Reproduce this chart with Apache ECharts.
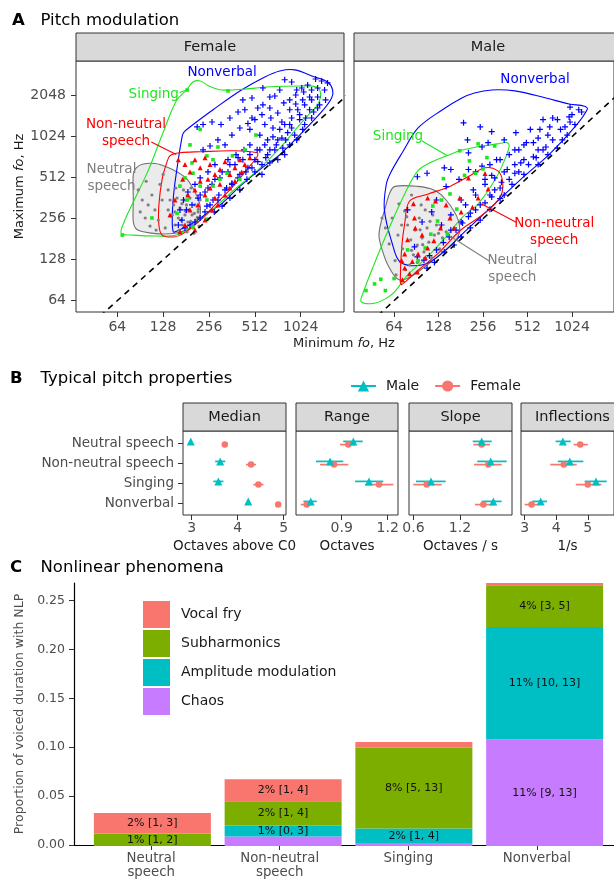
<!DOCTYPE html>
<html>
<head>
<meta charset="utf-8">
<script src="https://cdn.jsdelivr.net/npm/echarts@6/dist/echarts.min.js"></script>
<style>
  html, body { margin: 0; padding: 0; background: #fff; }
  #chart { width: 614px; height: 880px; }
</style>
</head>
<body>
<div id="chart"></div>
<script>
// ---------- A: pitch modulation (min / max f0, Hz) ----------
const xTicksHz = [64, 128, 256, 512, 1024];
const yTicksHz = [64, 128, 256, 512, 1024, 2048];

// outlines around each group
const femaleNonverbalHull = [[174,1095],[192,1207],[272,1614],[408,2220],[595,2810],[746,3109],[935,3167],[1263,2810],[1536,2582],[1660,2255],[1634,1970],[1425,1590],[1008,1053],[746,755],[552,588],[408,442],[312,332],[256,287],[201,238],[158,208],[149,205],[147,273],[151,416],[161,694],[169,969]];
const femaleSingingHull = [[224,2626],[256,2413],[312,2255],[440,2290],[612,2370],[1008,2413],[1302,2370],[1383,2107],[1322,1754],[1172,1510],[935,1136],[746,845],[530,577],[368,409],[260,287],[192,219],[156,194],[117,191],[81.5,194],[68,200],[70.5,238],[82.7,351],[102,577],[126,1053],[156,1870],[182,2255],[201,2582]];
const femaleNonNeutralHull = [[142,742],[165,780],[224,794],[368,807],[530,780],[530,730],[454,588],[368,442],[272,312],[214,238],[172,198],[151,188],[126,194],[120,230],[120,323],[126,498],[135,657]];
const femaleNeutralHull = [[81.5,541],[85.2,605],[94.7,645],[113.5,650],[134,616],[158,564],[184,498],[207,402],[224,317],[220,259],[192,219],[153,200],[119,198],[94.7,205],[85.2,215],[81.5,242],[81.5,351]];

const maleNonverbalHull = [[224,2144],[293,2255],[420,2220],[682,1970],[979,1780],[1245,1715],[1302,1635],[1071,1207],[724,767],[461,498],[307,329],[195,208],[138,146],[102,118],[71,122],[62,170],[55,297],[56.7,458],[61,564],[73,787],[93,1186],[136,1614],[184,1970]];
const maleSingingHull = [[38.3,63],[45.9,61],[55.9,66],[65,75],[79,99],[102,127],[138,179],[186,263],[237,329],[307,490],[356,680],[385,875],[373,926],[321,907],[231,860],[178,807],[147,745],[119,680],[93,577],[75.5,389],[59.3,219],[45.9,112],[39.5,73]];
const maleNonNeutralHull = [[81.5,345],[108,387],[153,442],[210,532],[264,605],[321,577],[346,490],[341,387],[293,311],[237,259],[178,208],[126,141],[93,107],[72,84],[70.5,88],[72,156],[75.5,235]];
const maleNeutralHull = [[65,442],[92,442],[119,416],[144,351],[174,250],[174,191],[144,151],[107,117],[81.5,95],[69,91],[59.3,112],[53.5,148],[50.6,198],[55.9,311],[60.2,402]];

// individual sounds [min, max]
const femaleNeutral = [[87.8,416],[93.3,351],[90.5,287],[97.6,259],[102,323],[105,226],[108,382],[113,297],[119,250],[122,458],[126,351],[132,219],[128,541],[138,416],[99,482],[115,211],[142,351],[150,323],[153,287],[158,363],[161,259],[165,307],[171,230],[176,351],[178,273],[182,323],[186,242],[189,297],[192,363],[198,273],[201,219],[207,323],[210,250],[217,287],[224,351],[228,259],[218,300],[153,230],[147,273],[163,211],[184,205],[204,200],[220,226],[215,262],[174,416],[195,430],[138,297],[155,430],[168,250],[180,290],[194,245],[205,280],[170,330],[185,380]];
const femaleNonNeutral = [[161,694],[178,639],[192,564],[172,498],[207,694],[224,605],[241,718],[260,639],[280,541],[302,588],[326,671],[351,541],[379,605],[408,694],[440,639],[475,718],[186,382],[207,416],[224,482],[241,382],[260,430],[280,363],[302,458],[326,382],[351,430],[192,297],[217,323],[241,250],[268,297],[178,230],[207,211],[165,205],[252,498],[379,482],[420,564],[142,273],[153,351],[293,323]];
const femaleSinging = [[224,1157],[520,1053],[293,860],[192,891],[341,2220],[184,2255],[69,194],[198,657],[201,552],[248,740],[272,694],[272,444],[224,444],[184,351],[248,351],[302,498],[158,280],[201,222],[108,259],[336,552],[365,740],[165,444],[248,254],[440,820],[408,498],[178,510]];
const femaleNonverbal = [[214,1207],[234,1258],[268,1313],[307,1258],[351,1405],[397,1554],[440,1614],[490,1405],[535,1663],[578,1754],[642,2003],[692,2038],[746,2255],[804,2682],[893,2582],[964,2255],[1040,2333],[1137,2454],[1282,2716],[1404,2626],[1536,2539],[1469,2255],[1322,2003],[1172,2003],[1055,1905],[950,1780],[867,1614],[793,1811],[724,1528],[652,1405],[595,1258],[673,1186],[770,1313],[867,1258],[1008,1485],[1172,1614],[1087,1258],[935,1053],[816,969],[724,969],[621,969],[552,1053],[475,1157],[408,1186],[362,1053],[326,891],[293,969],[260,875],[234,820],[552,820],[621,755],[692,820],[781,845],[867,891],[964,969],[1055,1157],[1208,1405],[1322,1663],[512,694],[570,639],[642,657],[724,694],[804,755],[461,605],[512,564],[570,541],[408,541],[454,498],[362,458],[408,416],[326,416],[351,363],[293,351],[312,317],[260,323],[277,287],[241,287],[224,259],[207,242],[192,230],[178,219],[379,639],[341,564],[302,510],[268,458],[241,402],[217,363],[198,323],[182,297],[427,694],[475,755],[385,755],[341,694],[280,639],[252,564],[224,510],[207,458],[186,402],[174,351],[165,297],[170,250],[161,230],
  [1008,1367],[1104,1405],[1245,1554],[1362,1754],[1491,1905],[893,1186],[841,1095],[770,1000],[708,891],[642,820],[604,718],[535,671],[490,605],[447,564],[397,510],[362,466],[334,430],[297,382],[272,351],[248,317],[804,1258],[893,1405],[979,1614],[1087,1754],[1208,1905],[746,1157],[673,1020],[595,891],[530,820],[475,891],[434,820],[397,718],[351,639],[312,564],[280,498],[252,430],[224,382],[867,1905],[950,2072],[1071,2180],[1208,2255],[1322,2333],[642,1663],[570,1485],[512,1367],[461,1280],[578,2333],[490,1970],[427,1905]];

const maleNeutral = [[53,259],[55.9,219],[62.1,259],[69,329],[59.3,167],[65,126],[84,382],[75.5,292],[68,194],[73,154],[79,230],[83,179],[86.5,139],[89,211],[92,164],[94.7,259],[99,185],[102,146],[107,219],[110,172],[115,132],[120,194],[124,230],[130,154],[136,185],[104,297],[81.5,117],[92,122],[76.7,108],[66,99],[144,205],[117,273],[97.6,323],[72,230],[96,212],[84,150],[112,245],[128,200],[78,265],[100,165]];
const maleNonNeutral = [[86.5,329],[108,363],[122,345],[88,259],[72,126],[75.5,111],[81.5,101],[93,141],[108,156],[119,176],[132,219],[153,259],[178,363],[75.5,141],[204,510],[264,550],[237,363],[277,423],[217,311],[79,179],[85,124],[92,104],[99,194],[104,132],[73,91],[89,219],[144,323],[163,219],[182,287]];
const maleSinging = [[41.3,76],[47.2,85],[52,92],[55.9,76],[64,93],[138,504],[117,317],[153,389],[170,301],[126,246],[147,197],[113.5,197],[93,126],[192,532],[207,680],[178,807],[237,907],[307,875],[256,594],[228,550],[272,719],[104,156],[79,151],[134,351]];
const maleNonverbal = [[189,1295],[245,1207],[201,969],[293,1115],[427,1095],[535,1157],[652,1367],[758,1405],[979,1430],[140,605],[107,552],[92,520],[155,588],[204,780],[252,860],[277,926],[356,969],[447,820],[503,926],[621,1157],[724,1207],[561,728],[682,860],[880,969],[341,474],[307,416],[373,588],[420,552],[293,370],[264,335],[228,297],[204,265],[186,238],[168,211],[151,188],[138,171],[124,151],[111,137],[102,127],[88,159],[79,297],[124,351],[144,441],[176,498],[204,588],[252,622],[293,532],[461,657],[561,926],[918,1207],[1137,1614],[993,1690],[356,382],[402,458],[484,541],[604,639],[703,755],[816,845],[950,1053],[1071,1258],[334,360],[285,300],[245,250],[210,219],[182,188],[163,164],[140,146],[120,122],[107,111],[92,134],[99,242],[115,287],[134,230],[155,273],[182,351],[220,416],[264,498],[316,694],[385,755],
  [758,969],[856,1157],[993,1313],[652,820],[586,718],[520,639],[447,564],[385,498],[334,430],[285,382],[245,323],[210,281],[182,242],[155,211],[604,820],[484,694],[420,639],[356,564],[307,510],[264,458],[228,382],[195,323],[703,1053],[604,1000],[484,891],[420,820],[334,694],[285,639],[228,564],[1190,1554],[1024,1485],[816,1367]];

// ---------- B: typical pitch properties [estimate, lower, upper] ----------
const pitchRows = ['Neutral speech', 'Non-neutral speech', 'Singing', 'Nonverbal'];
const medianMale = [[2.98,2.96,3.00],[3.62,3.51,3.73],[3.58,3.47,3.69],[4.23,4.21,4.25]];
const medianFemale = [[3.72,3.70,3.74],[4.29,4.18,4.40],[4.45,4.34,4.56],[4.88,4.86,4.90]];
const rangeMale = [[0.976,0.91,1.037],[0.824,0.732,0.91],[1.078,0.987,1.171],[0.698,0.65,0.737]];
const rangeFemale = [[0.943,0.889,0.987],[0.85,0.758,0.943],[1.143,1.052,1.237],[0.672,0.633,0.711]];
const slopeMale = [[1.48,1.364,1.609],[1.596,1.423,1.803],[0.826,0.632,1.015],[1.63,1.48,1.738]];
const slopeFemale = [[1.48,1.372,1.587],[1.565,1.381,1.738],[0.77,0.597,0.964],[1.501,1.394,1.652]];
const inflMale = [[4.21,3.98,4.46],[4.43,4.05,4.86],[5.26,4.9,5.6],[3.51,3.24,3.71]];
const inflFemale = [[4.76,4.55,5.0],[4.24,3.81,4.65],[5.0,4.62,5.43],[3.22,3.0,3.43]];

// ---------- C: nonlinear phenomena ----------
const nlpCategories = ['Neutral\nspeech', 'Non-neutral\nspeech', 'Singing', 'Nonverbal'];
const chaos = [0, 0.0098, 0.0023, 0.1087];
const amplitudeMod = [0, 0.0112, 0.0156, 0.1145];
const subharmonics = [0.0128, 0.0247, 0.0823, 0.0424];
const vocalFry = [0.0207, 0.0224, 0.0058, 0.0023];
const chaosLabels = ['', '', '', '11% [9, 13]'];
const amplitudeLabels = ['', '1% [0, 3]', '2% [1, 4]', '11% [10, 13]'];
const subharmonicLabels = ['1% [1, 2]', '2% [1, 4]', '8% [5, 13]', '4% [3, 5]'];
const fryLabels = ['2% [1, 3]', '2% [1, 4]', '', ''];
const nlpTicks = [0, 0.05, 0.1, 0.15, 0.2, 0.25];

// ---------- styling ----------
const FONT = 'DejaVu Sans';
const BLUE = '#0000ff', GREEN = '#1ee61e', RED = '#ff0000', GRAY = '#7f7f7f';
const TEAL = '#00bfc4', SALMON = '#f8766d';
const PLUS = 'path://M4,0H6V4H10V6H6V10H4V6H0V4H4Z';

// text anchors (Hz) for the group names in A
const femaleNotes = [['Nonverbal', 312, 3021, BLUE], ['Singing', 111, 2107, GREEN], ['Non-neutral\nspeech', 73, 1090, RED], ['Neutral\nspeech', 58.6, 507, GRAY]];
const maleNotes = [['Nonverbal', 575, 2682, BLUE], ['Singing', 68, 1031, GREEN], ['Non-neutral\nspeech', 776, 203, RED], ['Neutral\nspeech', 404, 109, GRAY]];
const femaleLeaders = [[[107, 937], [156, 758], RED], [[164, 2159], [182, 2255], GREEN]];
const maleLeaders = [[[99, 951], [146, 745], GREEN], [[249, 329], [432, 240], RED], [[149, 194], [282, 125], GRAY]];

const toLog = pts => pts.map(p => [Math.log2(p[0]), Math.log2(p[1])]);
const hzLabel = v => String(Math.round(Math.pow(2, v)));

const grids = [
  { left: 76, top: 61, width: 268, height: 251 },
  { left: 354, top: 61, width: 268, height: 251 },
  { left: 183, top: 431, width: 103, height: 84 },
  { left: 296, top: 431, width: 102, height: 84 },
  { left: 409, top: 431, width: 103, height: 84 },
  { left: 521, top: 431, width: 103, height: 84 },
  { left: 74, top: 583, width: 549, height: 263 },   // C axes
  { left: 87, top: 583, width: 523, height: 263 }    // C bars (category band)
].map((g, i) => Object.assign(g, i < 6 ? { show: true, borderColor: '#333', borderWidth: 1 } : {}));

const tickStyle = { lineStyle: { color: '#333', width: 1 }, length: 5 };

function aXAxis(gi) {
  const vals = xTicksHz.map(Math.log2);
  return {
    type: 'value', gridIndex: gi, min: 5.099, max: 10.944,
    axisLine: { show: false }, splitLine: { show: false },
    axisTick: Object.assign({ show: true, customValues: vals }, tickStyle),
    axisLabel: { customValues: vals, formatter: hzLabel, color: '#4d4d4d', fontSize: 14, margin: 8 }
  };
}
function aYAxis(gi, labels) {
  const vals = yTicksHz.map(Math.log2);
  const ax = {
    type: 'value', gridIndex: gi, min: 5.724, max: 11.846,
    axisLine: { show: false }, splitLine: { show: false },
    axisTick: Object.assign({ show: labels, customValues: vals }, tickStyle),
    axisLabel: { show: labels, customValues: vals, formatter: hzLabel, color: '#4d4d4d', fontSize: 14, margin: 10 }
  };
  if (labels) {
    Object.assign(ax, {
      name: 'Maximum {i|fo}, Hz', nameLocation: 'middle', nameGap: 49,
      nameTextStyle: { fontSize: 13, color: '#1a1a1a', rich: { i: { fontStyle: 'italic', fontSize: 13, color: '#1a1a1a' } } }
    });
  }
  return ax;
}
function bXAxis(gi, min, max, ticks, name) {
  return {
    type: 'value', gridIndex: gi, min: min, max: max,
    axisLine: { show: false }, splitLine: { show: false },
    axisTick: Object.assign({ show: true, customValues: ticks }, tickStyle),
    axisLabel: { customValues: ticks, color: '#4d4d4d', fontSize: 14, margin: 6 },
    name: name, nameLocation: 'middle', nameGap: 24,
    nameTextStyle: { fontSize: 13.5, color: '#1a1a1a' }
  };
}
function bYAxis(gi, labels) {
  const vals = [1, 2, 3, 4];
  return {
    type: 'value', gridIndex: gi, min: 0.4, max: 4.6,
    axisLine: { show: false }, splitLine: { show: false },
    axisTick: Object.assign({ show: labels, customValues: vals }, tickStyle),
    axisLabel: { show: labels, customValues: vals, formatter: v => pitchRows[4 - v], color: '#4d4d4d', fontSize: 13.5, margin: 9 }
  };
}

function hull(pts, gi, stroke, fill) {
  return {
    type: 'custom', xAxisIndex: gi, yAxisIndex: gi, clip: true, silent: true,
    data: toLog(pts),
    renderItem(params, api) {
      if (params.dataIndexInside !== 0) return null;
      const pp = [];
      for (let i = 0; i < params.dataInsideLength; i++) pp.push(api.coord([api.value(0, i), api.value(1, i)]));
      return { type: 'polygon', shape: { points: pp, smooth: 0.35 }, style: { fill: fill || 'none', stroke: stroke, lineWidth: 1.1 } };
    }
  };
}
function points(pts, gi, symbol, size, color) {
  return {
    type: 'scatter', xAxisIndex: gi, yAxisIndex: gi, silent: true,
    data: toLog(pts), symbol: symbol, symbolSize: size,
    itemStyle: { color: color, opacity: 1 }
  };
}
function segment(a, b, gi, color, dashed) {
  return {
    type: 'line', xAxisIndex: gi, yAxisIndex: gi, silent: true, clip: true,
    data: toLog([a, b]), showSymbol: false, symbol: 'none',
    lineStyle: { color: color, width: dashed ? 1.6 : 1.1, type: dashed ? [6, 5] : 'solid' }
  };
}
function notes(list, gi) {
  return {
    type: 'custom', xAxisIndex: gi, yAxisIndex: gi, silent: true, clip: false,
    data: list.map(n => [Math.log2(n[1]), Math.log2(n[2])]),
    renderItem(params, api) {
      const n = list[params.dataIndex];
      const p = api.coord([api.value(0), api.value(1)]);
      return {
        type: 'text', x: p[0], y: p[1],
        style: { text: n[0], fill: n[3], fontSize: 13.5, fontFamily: FONT, lineHeight: 17,
                 align: 'center', textAlign: 'center', verticalAlign: 'middle', textVerticalAlign: 'middle' }
      };
    }
  };
}
function panelA(gi, g) {
  const s = [];
  s.push(hull(g.neutralHull, gi, '#707070', '#ebebeb'));
  s.push(points(g.neutral, gi, 'circle', 3.2, GRAY));
  s.push(points(g.nonverbal, gi, PLUS, 6, BLUE));
  s.push(points(g.singing, gi, 'rect', 3.6, GREEN));
  s.push(points(g.nonNeutral, gi, 'triangle', 5, RED));
  s.push(hull(g.nonverbalHull, gi, BLUE));
  s.push(hull(g.singingHull, gi, GREEN));
  s.push(hull(g.nonNeutralHull, gi, RED));
  s.push(segment([30, 30], [4000, 4000], gi, '#000', true));
  g.leaders.forEach(l => s.push(segment(l[0], l[1], gi, l[2], false)));
  s.push(notes(g.notes, gi));
  return s;
}

function errorBars(rows, gi, color, dy) {
  return {
    type: 'custom', xAxisIndex: gi, yAxisIndex: gi, silent: true,
    data: rows.map((r, i) => [r[1], r[2], 4 - i + dy]),
    encode: { x: [0, 1], y: 2 },
    renderItem(params, api) {
      const a = api.coord([api.value(0), api.value(2)]);
      const b = api.coord([api.value(1), api.value(2)]);
      return { type: 'line', shape: { x1: a[0], y1: a[1], x2: b[0], y2: b[1] }, style: { stroke: color, lineWidth: 1.7 } };
    }
  };
}
function estimates(rows, gi, color, dy, symbol, size) {
  return {
    type: 'scatter', xAxisIndex: gi, yAxisIndex: gi, silent: true,
    data: rows.map((r, i) => [r[0], 4 - i + dy]),
    symbol: symbol, symbolSize: size, itemStyle: { color: color, opacity: 1 }
  };
}
function panelB(gi, male, female) {
  return [
    errorBars(female, gi, SALMON, -0.08), estimates(female, gi, SALMON, -0.08, 'circle', 6.5),
    errorBars(male, gi, TEAL, 0.08), estimates(male, gi, TEAL, 0.08, 'triangle', 8)
  ];
}

function nlpBar(name, values, labels, color) {
  return {
    type: 'bar', name: name, stack: 'nlp', xAxisIndex: 7, yAxisIndex: 7, barWidth: 117,
    data: values,
    itemStyle: { color: color },
    label: { show: true, position: 'inside', formatter: p => labels[p.dataIndex], color: '#111', fontSize: 11, fontFamily: FONT },
    silent: true
  };
}

const series = [].concat(
  panelA(0, { neutralHull: femaleNeutralHull, nonverbalHull: femaleNonverbalHull, singingHull: femaleSingingHull, nonNeutralHull: femaleNonNeutralHull,
              neutral: femaleNeutral, nonverbal: femaleNonverbal, singing: femaleSinging, nonNeutral: femaleNonNeutral,
              leaders: femaleLeaders, notes: femaleNotes }),
  panelA(1, { neutralHull: maleNeutralHull, nonverbalHull: maleNonverbalHull, singingHull: maleSingingHull, nonNeutralHull: maleNonNeutralHull,
              neutral: maleNeutral, nonverbal: maleNonverbal, singing: maleSinging, nonNeutral: maleNonNeutral,
              leaders: maleLeaders, notes: maleNotes }),
  panelB(2, medianMale, medianFemale),
  panelB(3, rangeMale, rangeFemale),
  panelB(4, slopeMale, slopeFemale),
  panelB(5, inflMale, inflFemale),
  [
    { type: 'line', name: 'Male', xAxisIndex: 2, yAxisIndex: 2, data: [], symbol: 'triangle', symbolSize: 9,
      itemStyle: { color: TEAL }, lineStyle: { color: TEAL, width: 1.7 } },
    { type: 'line', name: 'Female', xAxisIndex: 2, yAxisIndex: 2, data: [], symbol: 'circle', symbolSize: 8,
      itemStyle: { color: SALMON }, lineStyle: { color: SALMON, width: 1.7 } }
  ],
  [
    nlpBar('Chaos', chaos, chaosLabels, '#c77cff'),
    nlpBar('Amplitude modulation', amplitudeMod, amplitudeLabels, '#00bfc4'),
    nlpBar('Subharmonics', subharmonics, subharmonicLabels, '#7cae00'),
    nlpBar('Vocal fry', vocalFry, fryLabels, '#f8766d')
  ]
);

function title(letter, text, y, x0) {
  return [
    { type: 'text', x: x0, y: y, style: { text: letter, font: 'bold 16.5px ' + FONT, fill: '#000', verticalAlign: 'middle', textVerticalAlign: 'middle' } },
    { type: 'text', x: 40.5, y: y, style: { text: text, font: '16.5px ' + FONT, fill: '#000', verticalAlign: 'middle', textVerticalAlign: 'middle' } }
  ];
}
function strip(g, y, h, text) {
  return [
    { type: 'rect', shape: { x: g.left, y: y, width: g.width, height: h }, style: { fill: '#d9d9d9', stroke: '#333', lineWidth: 1 } },
    { type: 'text', x: g.left + g.width / 2, y: y + h / 2 + 0.5,
      style: { text: text, font: '14.5px ' + FONT, fill: '#1a1a1a', align: 'center', textAlign: 'center', verticalAlign: 'middle', textVerticalAlign: 'middle' } }
  ];
}

const graphics = [].concat(
  title('A', 'Pitch modulation', 20.5, 12),
  title('B', 'Typical pitch properties', 378.5, 10),
  title('C', 'Nonlinear phenomena', 567.5, 10),
  strip(grids[0], 33, 28, 'Female'),
  strip(grids[1], 33, 28, 'Male'),
  strip(grids[2], 403, 28, 'Median'),
  strip(grids[3], 403, 28, 'Range'),
  strip(grids[4], 403, 28, 'Slope'),
  strip(grids[5], 403, 28, 'Inflections'),
  [{ type: 'text', x: 344, y: 343.5,
     style: { text: 'Minimum {i|fo}, Hz', font: '13px ' + FONT, fill: '#1a1a1a', align: 'center', textAlign: 'center', verticalAlign: 'middle', textVerticalAlign: 'middle',
              rich: { i: { fontStyle: 'italic', fontSize: 13, fontFamily: FONT, fill: '#1a1a1a', color: '#1a1a1a' } } } }]
);

const option = {
  animation: false,
  backgroundColor: '#ffffff',
  textStyle: { fontFamily: FONT },
  grid: grids,
  legend: [
    { data: ['Male', 'Female'], left: 345, top: 374, itemWidth: 25, itemHeight: 14, itemGap: 15, selectedMode: false,
      textStyle: { fontSize: 14, color: '#1a1a1a', padding: [0, 0, 0, 5] } },
    { data: ['Vocal fry', 'Subharmonics', 'Amplitude modulation', 'Chaos'], orient: 'vertical', left: 138, top: 596,
      itemWidth: 27, itemHeight: 27, itemGap: 2, icon: 'rect', selectedMode: false,
      textStyle: { fontSize: 14, color: '#1a1a1a', padding: [0, 0, 0, 6] } }
  ],
  xAxis: [
    aXAxis(0), aXAxis(1),
    bXAxis(2, 2.811, 5.050, [3, 4, 5], 'Octaves above C0'),
    bXAxis(3, 0.602, 1.267, [0.9, 1.2], 'Octaves'),
    bXAxis(4, 0.542, 1.871, [0.6, 1.2], 'Octaves / s'),
    bXAxis(5, 2.886, 5.829, [3, 4, 5], '1/s'),
    {
      type: 'value', gridIndex: 6, min: 0.4, max: 4.6,
      axisLine: { show: true, onZero: false, lineStyle: { color: '#000', width: 1.2 } },
      splitLine: { show: false },
      axisTick: Object.assign({ show: true, customValues: [1, 2, 3, 4] }, tickStyle),
      axisLabel: { customValues: [1, 2, 3, 4], formatter: v => nlpCategories[v - 1], color: '#4d4d4d', fontSize: 13.3, lineHeight: 14, margin: 7 }
    },
    { type: 'category', gridIndex: 7, data: nlpCategories, boundaryGap: true, show: false }
  ],
  yAxis: [
    aYAxis(0, true), aYAxis(1, false),
    bYAxis(2, true), bYAxis(3, false), bYAxis(4, false), bYAxis(5, false),
    {
      type: 'value', gridIndex: 6, min: 0, max: 0.2679,
      axisLine: { show: true, onZero: false, lineStyle: { color: '#000', width: 1.2 } },
      splitLine: { show: false },
      axisTick: Object.assign({ show: true, customValues: nlpTicks }, tickStyle),
      axisLabel: { customValues: nlpTicks, formatter: v => v.toFixed(2), color: '#4d4d4d', fontSize: 12.5, margin: 9 },
      name: 'Proportion of voiced duration with NLP', nameLocation: 'middle', nameGap: 45,
      nameTextStyle: { fontSize: 12.5, color: '#4d4d4d' }
    },
    { type: 'value', gridIndex: 7, min: 0, max: 0.2679, show: false }
  ],
  graphic: graphics,
  series: series
};

const chart = echarts.init(document.getElementById('chart'), null, { renderer: 'canvas' });
chart.setOption(option);
</script>
</body>
</html>
